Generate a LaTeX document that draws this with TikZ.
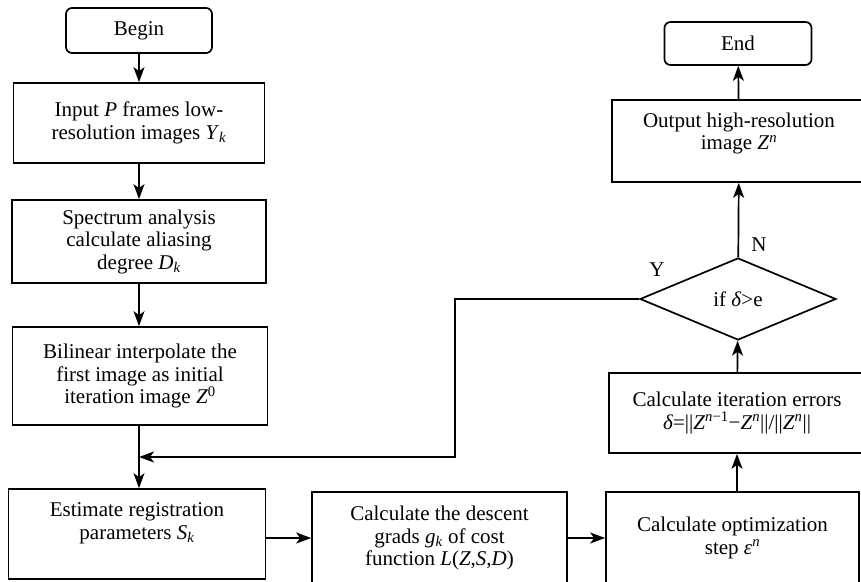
\documentclass[tikz,border=0pt]{standalone}
\usepackage{fontspec}
\setmainfont{Liberation Serif}
\usetikzlibrary{arrows.meta,shapes.geometric}

\begin{document}
\begin{tikzpicture}[
    x=1pt, y=-1pt,
    box/.style={rectangle, draw, line width=1.7pt, align=center, inner sep=0pt},
    term/.style={box, rounded corners=6pt},
    cond/.style={diamond, draw, line width=1.7pt, aspect=2.4, inner sep=0pt,
        minimum width=196pt, minimum height=82pt},
    arr/.style={line width=1.7pt, -{Stealth[length=15pt,width=11pt,inset=4pt]}},
    every node/.style={font=\fontsize{21}{22.5}\selectfont}
]
\clip (0,0) rectangle (861,581);

% Left column
\node[term, minimum width=146pt, minimum height=45pt] (begin) at (139,30.5) {Begin};
\node[box, minimum width=251pt, minimum height=80pt] (input) at (139,123)
    {Input \textit{P} frames low-\\resolution images \textit{Y}\textsubscript{\textit{k}}};
\node[box, minimum width=254pt, minimum height=83pt] (spectrum) at (139,241.5)
    {Spectrum analysis\\calculate aliasing\\degree \textit{D}\textsubscript{\textit{k}}};
\node[box, minimum width=255pt, minimum height=98pt] (bilinear) at (140,376)
    {Bilinear interpolate the\\first image as initial\\iteration image \textit{Z}\textsuperscript{0}};
\node[box, minimum width=257pt, minimum height=90pt, text depth=26pt] (estimate) at (137,534)
    {Estimate registration\\parameters \textit{S}\textsubscript{\textit{k}}};

% Bottom row
\node[box, minimum width=255pt, minimum height=92pt] (descent) at (439.5,538)
    {Calculate the descent\\grads \textit{g}\textsubscript{\textit{k}} of cost\\function \textit{L}(\textit{Z},\textit{S},\textit{D})};
\node[box, minimum width=253pt, minimum height=92pt] (optim) at (732.5,538)
    {Calculate optimization\\step \textit{ε}\textsuperscript{\textit{n}}};

% Right column
\node[box, minimum width=256pt, minimum height=80pt] (iter) at (737,413)
    {Calculate iteration errors\\\textit{δ}=||\textit{Z}\textsuperscript{\textit{n}−1}−\textit{Z}\textsuperscript{\textit{n}}||/||\textit{Z}\textsuperscript{\textit{n}}||};
\node[cond] (check) at (738,299) {if \textit{δ}>e};
\node[box, minimum width=254pt, minimum height=82pt, text depth=20pt] (output) at (739,141)
    {Output high-resolution\\image \textit{Z}\textsuperscript{\textit{n}}};
\node[term, minimum width=147pt, minimum height=43pt] (end) at (738,43.5) {End};

% Labels
\node (yes) at (657,270) {Y};
\node (no) at (759,245) {N};

% Edges
\draw[arr] (begin) -- (input);
\draw[arr] (input) -- (spectrum);
\draw[arr] (spectrum) -- (spectrum |- bilinear.north);
\draw[arr] (bilinear.south -| spectrum) -- (spectrum |- estimate.north);
\draw[arr] (estimate.east |- descent) -- (descent);
\draw[arr] (descent) -- (optim);
\draw[arr] (optim.north -| iter) -- (iter);
\draw[arr] (iter) -- (check);
\draw[arr] (check) -- (output);
\draw[arr] (output) -- (end);

% Feedback loop
\coordinate (fb) at (455,457);
\draw[arr] (check.west) -| (fb) -- (fb -| spectrum);

\end{tikzpicture}
\end{document}
